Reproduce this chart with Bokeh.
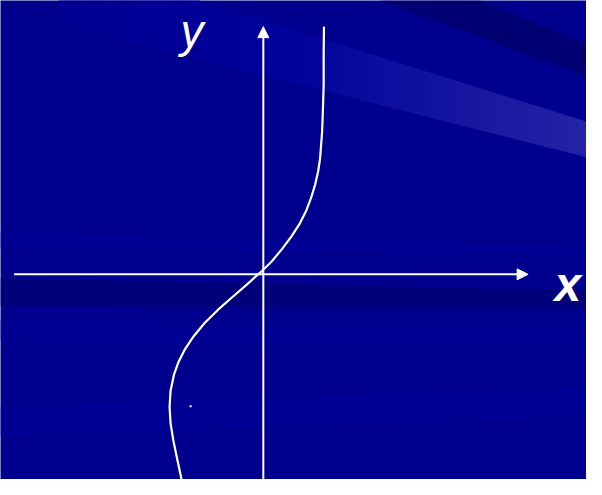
from bokeh.plotting import figure
from bokeh.models import Range1d, Arrow, NormalHead
from bokeh.core.properties import value
from bokeh.embed import file_html
from bokeh.resources import INLINE

# ---- curve data (math units) ----
curve_x = [-1.68, -1.786, -1.854, -1.906, -1.926, -1.906, -1.836, -1.74, -1.606,
           -1.426, -1.206, -0.94, -0.64, -0.334, -0.04, 0.166, 0.386, 0.586,
           0.754, 0.886, 0.986, 1.066, 1.126, 1.166, 1.186, 1.206, 1.22, 1.24,
           1.24, 1.246]
curve_y = [-4.24, -3.74, -3.406, -3.074, -2.74, -2.406, -2.074, -1.806, -1.54,
           -1.274, -1.006, -0.74, -0.474, -0.206, 0.06, 0.26, 0.526, 0.794,
           1.06, 1.326, 1.594, 1.86, 2.126, 2.394, 2.66, 2.92, 3.26, 3.92,
           4.60, 5.12]

# axes extents
x_axis_start = -5.12
x_axis_end = 5.44
y_axis_start = -4.4
y_axis_end = 5.12

# stray dot
dot_x = [-1.494]
dot_y = [-2.726]

# axis labels
label_text = ["y", "x"]
label_x = [-1.7, 5.98]
label_y = [5.02, -0.22]
label_style = ["italic", "bold italic"]
label_size = ["46px", "48px"]

BASE = "#00008f"
X0, X1 = -5.4, 6.64
Y0, Y1 = -4.24, 5.66

p = figure(width=586, height=479, x_range=Range1d(X0, X1), y_range=Range1d(Y0, Y1),
           output_backend="svg", toolbar_location=None, min_border=0,
           x_axis_type=None, y_axis_type=None)
p.grid.visible = False
p.outline_line_color = None
p.background_fill_color = BASE
p.border_fill_color = BASE


def px(xp, yp):
    return (xp - 270) / 50.0, (283 - yp) / 50.0


def poly(points, color):
    xs, ys = zip(*[px(a, b) for a, b in points])
    p.patch(list(xs), list(ys), fill_color=color, line_color=None)


# background decorations
poly([(0, 240), (602, 255), (602, 262), (0, 256)], "#000095")
poly([(0, 287), (250, 292), (602, 300), (602, 318), (250, 317), (0, 316)], "#00007a")
poly([(0, 330), (602, 338), (602, 360), (0, 352)], "#000092")
poly([(0, 420), (602, 400), (602, 430), (0, 450)], "#000094")
poly([(390, 0), (493, 0), (602, 45), (602, 78)], "#000072")

# light streak with smooth gradient to the right
n = 60
xa, xb = 60.0, 602.0


def top(x):
    return 30 + 0.315 * (x - 300)


def bot(x):
    return 85 + 0.255 * (x - 300)


for i in range(n):
    a = xa + (xb - xa) * i / n
    b = xa + (xb - xa) * (i + 1) / n + 0.6
    t = (i + 0.5) / n
    r = int(36 * max(0.0, (t - 0.4)) / 0.6)
    bl = int(0x94 + 0x12 * t)
    col = "#%02x%02x%02x" % (r, r, bl)
    poly([(a, max(top(a), -5)), (b, max(top(b), -5)), (b, bot(b)), (a, bot(a))], col)

# axes with arrows
for xs0, ys0, xe, ye in [(x_axis_start, 0, x_axis_end, 0), (0, y_axis_start, 0, y_axis_end)]:
    p.add_layout(Arrow(end=NormalHead(size=11, fill_color="white", line_color="white"),
                       x_start=xs0, y_start=ys0, x_end=xe, y_end=ye,
                       line_color="white", line_width=2))

# curve
p.line(curve_x, curve_y, line_color="white", line_width=2.2, line_join="round")

# stray dot
p.scatter(dot_x, dot_y, marker="square", size=2, fill_color="white", line_color=None)

# labels
for t, lx, ly, st, sz in zip(label_text, label_x, label_y, label_style, label_size):
    p.text(x=[lx], y=[ly], text=[t], text_font=value("Liberation Sans"),
           text_font_style=st, text_font_size=sz, text_color="white",
           text_baseline="alphabetic", text_align="left")

open("out.html", "w").write(file_html(p, INLINE))
